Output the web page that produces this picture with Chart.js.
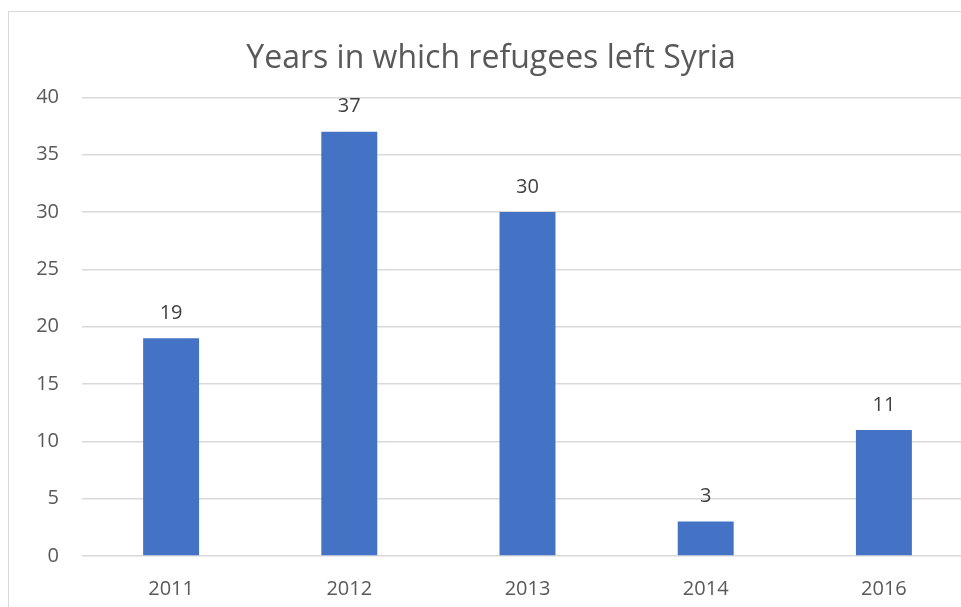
<!DOCTYPE html>
<html lang="en">
<head>
    <meta charset="UTF-8">
    <title>Years in which refugees left Syria</title>
    <script src="https://cdn.jsdelivr.net/npm/chart.js@4.4.1/dist/chart.umd.min.js"></script>
    <style>
        body {
            margin: 0;
            overflow: hidden;
            background: #fff;
        }
        .chart-box {
            position: absolute;
            left: 8px;
            top: 11px;
            width: 964px;
            height: 620px;
            border: 1px solid #d9d9d9;
        }
    </style>
</head>
<body>
    <div class="chart-box">
        <canvas id="refugeeChart" width="964" height="620"></canvas>
    </div>

    <script>
        const years = ['2011', '2012', '2013', '2014', '2016'];
        const refugees = [19, 37, 30, 3, 11];
        const yTicks = [0, 5, 10, 15, 20, 25, 30, 35, 40];

        const fontName = '"Open Sans", "DejaVu Sans", sans-serif';
        const textGrey = '#595959';

        // draws the value above each bar (no datalabels plugin here)
        const barValues = {
            id: 'barValues',
            afterDatasetsDraw(chart) {
                const ctx = chart.ctx;
                const meta = chart.getDatasetMeta(0);
                ctx.save();
                ctx.font = '20px ' + fontName;
                ctx.fillStyle = '#404040';
                ctx.textAlign = 'center';
                ctx.textBaseline = 'middle';
                meta.data.forEach((bar, i) => {
                    ctx.fillText(String(refugees[i]), bar.x, bar.y - 25);
                });
                ctx.restore();
            }
        };

        const ctx = document.getElementById('refugeeChart').getContext('2d');
        new Chart(ctx, {
            type: 'bar',
            data: {
                labels: years,
                datasets: [{
                    data: refugees,
                    backgroundColor: '#4472C4',
                    barPercentage: 1,
                    categoryPercentage: 0.314
                }]
            },
            options: {
                responsive: false,
                animation: false,
                plugins: {
                    legend: { display: false },
                    tooltip: { enabled: false },
                    title: {
                        display: true,
                        text: 'Years in which refugees left Syria',
                        color: textGrey,
                        font: { family: fontName, size: 32, weight: 'normal' },
                        padding: { top: 28, bottom: 19 }
                    }
                },
                scales: {
                    x: {
                        grid: { display: false },
                        border: { display: false },
                        ticks: {
                            color: textGrey,
                            font: { family: fontName, size: 20 },
                            padding: 13
                        },
                        afterFit(scale) { scale.height = 76; }
                    },
                    y: {
                        min: 0,
                        max: 40,
                        afterBuildTicks(scale) {
                            scale.ticks = yTicks.map(v => ({ value: v }));
                        },
                        grid: { color: '#d9d9d9', lineWidth: 1.5, drawTicks: false },
                        border: { display: false },
                        ticks: {
                            color: textGrey,
                            font: { family: fontName, size: 20 },
                            padding: 23
                        },
                        afterFit(scale) { scale.width = 73; }
                    }
                }
            },
            plugins: [barValues]
        });
    </script>
</body>
</html>
